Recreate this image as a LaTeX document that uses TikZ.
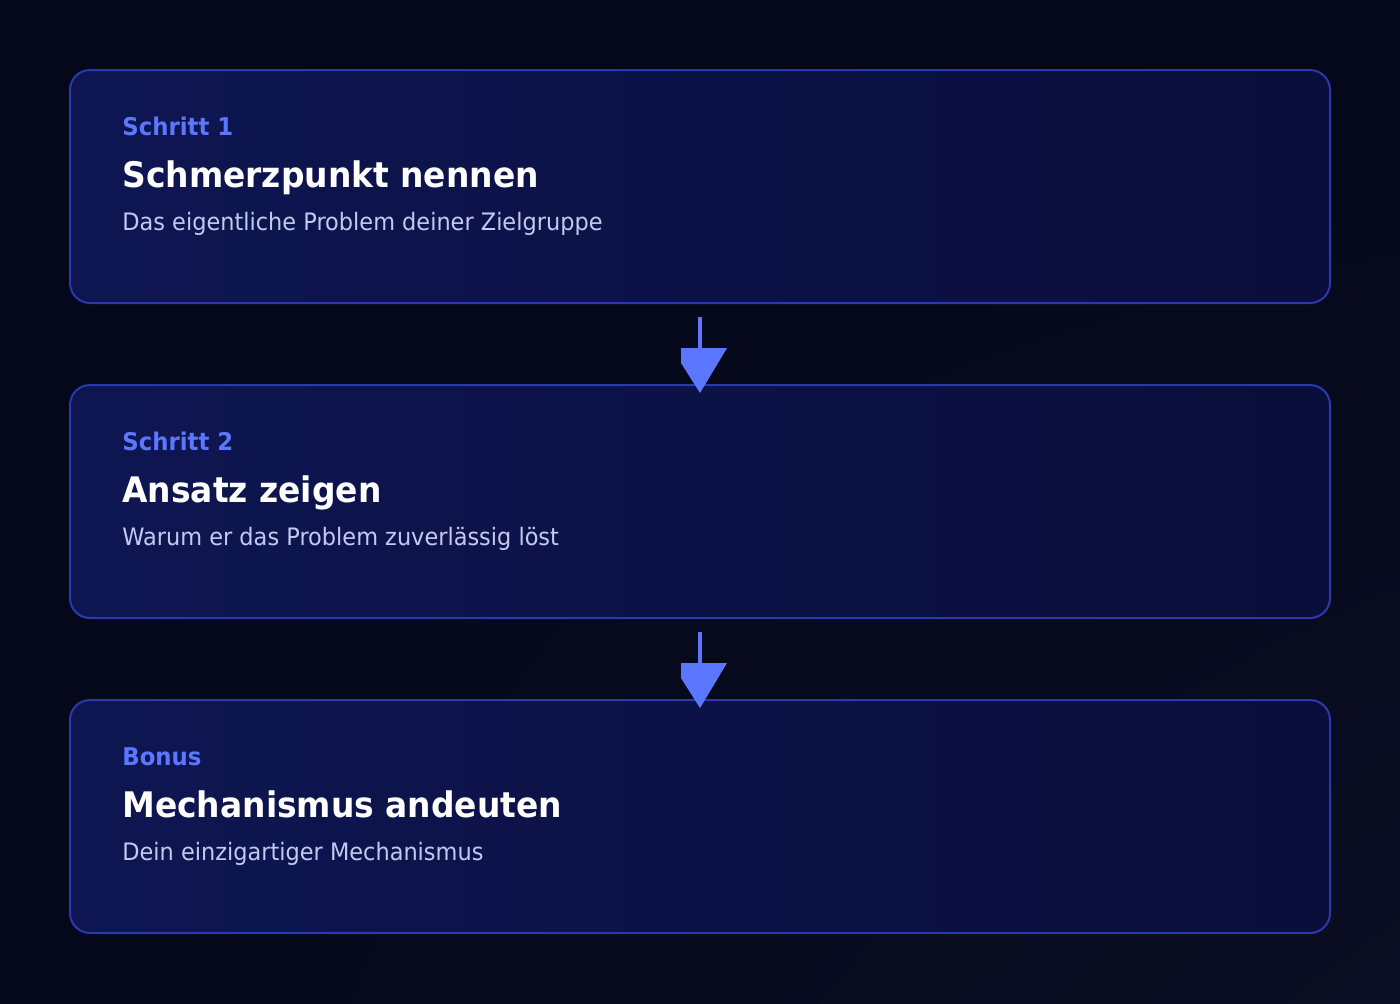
\documentclass[tikz,border=0pt]{standalone}
\usepackage{fontspec}
\setmainfont{DejaVu Sans}[FakeStretch=0.935]
\usetikzlibrary{shadings}
\definecolor{bgA}{HTML}{05071A}
\definecolor{bgB}{HTML}{0B0E22}
\definecolor{boxL}{HTML}{0E1652}
\definecolor{boxR}{HTML}{0A0E3A}
\definecolor{boxLine}{HTML}{2A3AAE}
\definecolor{accent}{HTML}{5B77FF}
\definecolor{subtxt}{HTML}{C3CAF2}
\begin{document}
\begin{tikzpicture}[x=0.5pt,y=-0.5pt,
  stepcard/.style={draw=boxLine,line width=1pt,rounded corners=10pt,left color=boxL,right color=boxR},
  kicker/.style={anchor=base west,inner sep=0pt,text=accent,font=\bfseries\fontsize{12.2}{14}\selectfont},
  headline/.style={anchor=base west,inner sep=0pt,text=white,font=\bfseries\fontsize{17.6}{20}\selectfont},
  subline/.style={anchor=base west,inner sep=0pt,text=subtxt,font=\fontsize{12}{14}\selectfont},
  arrowfill/.style={fill=accent,draw=none}]
\useasboundingbox (0,0) rectangle (1400,1003);
\shade[upper left=bgA,lower right=bgB,upper right=bgA,lower left=bgA] (0,0) rectangle (1400,1003);
% cards
\foreach \i/\dy in {1/0,2/315,3/630}{
  \path[stepcard] (70,70+\dy) rectangle (1330,303+\dy);
}
\node[kicker] (k1) at (122,135) {Schritt 1};
\node[headline] (t1) at (122,187) {Schmerzpunkt nennen};
\node[subline] (s1) at (122,230) {Das eigentliche Problem deiner Zielgruppe};
\node[kicker] (k2) at (122,450) {Schritt 2};
\node[headline] (t2) at (122,502) {Ansatz zeigen};
\node[subline] (s2) at (122,545) {Warum er das Problem zuverlässig löst};
\node[kicker] (k3) at (122,765) {Bonus};
\node[headline] (t3) at (122,817) {Mechanismus andeuten};
\node[subline] (s3) at (122,860) {Dein einzigartiger Mechanismus};
% arrows
\foreach \dy in {0,315}{
  \fill[accent] (698,317+\dy) rectangle (702,350+\dy);
  \path[arrowfill] (681,348+\dy) -- (727,348+\dy) -- (700,393+\dy) -- (681,363+\dy) -- cycle;
}
\end{tikzpicture}
\end{document}
